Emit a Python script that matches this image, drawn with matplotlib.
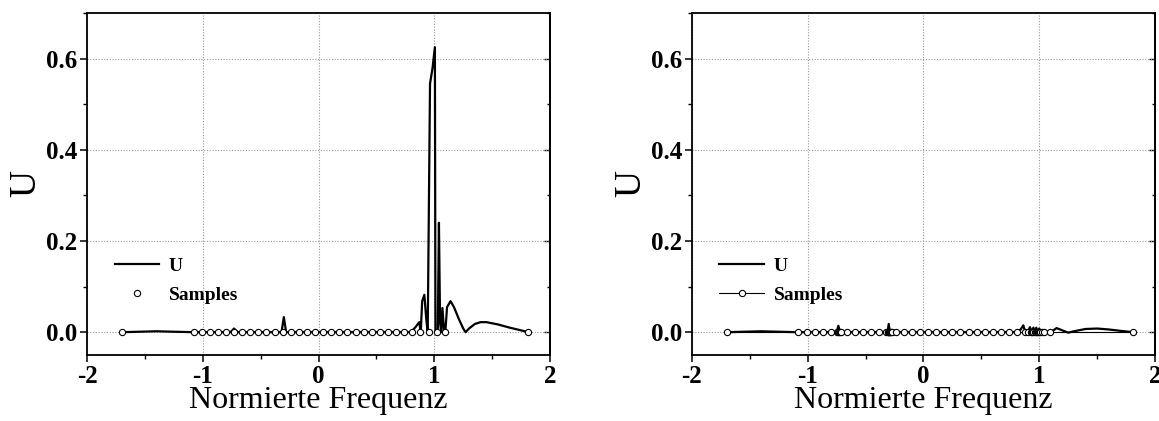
import matplotlib
matplotlib.use("Agg")
import matplotlib.pyplot as plt
from matplotlib.ticker import MultipleLocator, FormatStrFormatter

plt.rcParams['font.family'] = ['Liberation Serif', 'DejaVu Serif']

# ---------------- data ----------------
base_samples_x = [-1.70, -1.08, -1.01, -0.94, -0.87, -0.80, -0.73, -0.66, -0.59,
                  -0.52, -0.45, -0.38, -0.31, -0.24, -0.17, -0.10, -0.03, 0.04,
                  0.11, 0.18, 0.25, 0.32, 0.39, 0.46, 0.53, 0.60, 0.67, 0.74,
                  0.81, 0.88, 0.95, 1.02, 1.09, 1.81]
left_samples_y = [0.0] * len(base_samples_x)

extra_samples_x = [-0.745, -0.735, -0.725, -0.715, -0.32, -0.305, -0.30, -0.295,
                   -0.29, -0.285, -0.28, -0.27, 0.90, 0.93, 0.94, 0.96, 0.97,
                   0.98, 0.99, 1.00, 1.01, 1.04]
right_samples_x = sorted(base_samples_x + extra_samples_x)
right_samples_y = [0.0] * len(right_samples_x)

left_u_x = [-1.70, -1.55, -1.40, -1.25, -1.08, -0.76, -0.73, -0.70, -0.32, -0.30,
            -0.28, 0.80, 0.84, 0.87, 0.883, 0.895, 0.914, 0.93, 0.943, 0.963,
            0.985, 1.005, 1.01, 1.03, 1.04, 1.05, 1.06, 1.07, 1.085, 1.095,
            1.11, 1.14, 1.17, 1.21, 1.25, 1.27, 1.30, 1.35, 1.40, 1.45, 1.55,
            1.65, 1.75, 1.81]
left_u_y = [0.0, 0.001, 0.002, 0.001, 0.0, 0.0, 0.008, 0.0, 0.0, 0.033,
            0.0, 0.0, 0.012, 0.022, 0.0, 0.068, 0.082, 0.03, 0.0, 0.545,
            0.58, 0.625, 0.0, 0.0, 0.24, 0.02, 0.0, 0.053, 0.0, 0.0,
            0.055, 0.068, 0.055, 0.03, 0.008, 0.0, 0.008, 0.018, 0.022, 0.022, 0.017,
            0.010, 0.004, 0.0]

right_u_x = [-1.70, -1.55, -1.40, -1.25, -1.08, -0.75, -0.735, -0.72, -0.31, -0.30,
             -0.29, 0.80, 0.84, 0.863, 0.88, 0.90, 0.92, 0.935, 0.95, 0.96,
             0.975, 0.985, 1.00, 1.01, 1.10, 1.15, 1.20, 1.25, 1.30, 1.40,
             1.50, 1.60, 1.70, 1.81]
right_u_y = [0.0, 0.001, 0.002, 0.001, 0.0, 0.0, 0.014, 0.0, 0.0, 0.018,
             0.0, 0.0, 0.006, 0.015, 0.0, 0.0, 0.011, 0.0, 0.010, 0.0,
             0.010, 0.0, 0.008, 0.0, 0.0, 0.009, 0.004, -0.001, 0.002, 0.007,
             0.008, 0.006, 0.003, 0.0]

x_ticks = [-2, -1, 0, 1, 2]
y_ticks = [0.0, 0.2, 0.4, 0.6]
x_label = "Normierte Frequenz"
y_label = "U"

# ---------------- figure ----------------
fig = plt.figure(figsize=(11.59, 4.21), dpi=100)
ax1 = fig.add_axes([0.0751, 0.1568, 0.3995, 0.8123])
ax2 = fig.add_axes([0.5970, 0.1568, 0.3995, 0.8123])


def style(ax):
    ax.set_xlim(-2, 2)
    ax.set_ylim(-0.05, 0.70)
    ax.set_xticks(x_ticks)
    ax.set_yticks(y_ticks)
    ax.xaxis.set_minor_locator(MultipleLocator(0.5))
    ax.yaxis.set_minor_locator(MultipleLocator(0.1))
    ax.yaxis.set_major_formatter(FormatStrFormatter('%.1f'))
    ax.xaxis.set_major_formatter(FormatStrFormatter('%d'))
    ax.grid(True, which='major', color='#999999', linestyle=(0, (1, 1.5)), linewidth=0.8)
    ax.set_axisbelow(True)
    ax.tick_params(which='major', direction='out', length=5, width=1.1,
                   labelsize=18, pad=2, top=False, right=False)
    ax.tick_params(which='minor', direction='out', length=3, width=1.0,
                   top=False, right=False)
    for lab in ax.get_xticklabels() + ax.get_yticklabels():
        lab.set_fontweight('bold')
    for sp in ax.spines.values():
        sp.set_linewidth(1.3)
    ax.set_xlabel(x_label, fontsize=23, labelpad=-1)
    ax.set_ylabel(y_label, fontsize=27, labelpad=2)
    # inward ticks on the right spine
    sec = ax.secondary_yaxis('right')
    sec.set_yticks(y_ticks)
    sec.yaxis.set_minor_locator(MultipleLocator(0.1))
    sec.tick_params(which='major', direction='in', length=4, width=1.0, labelright=False)
    sec.tick_params(which='minor', direction='in', length=2.5, width=1.0)
    sec.spines['right'].set_linewidth(1.3)


style(ax1)
style(ax2)

# left panel
ax1.plot(left_u_x, left_u_y, color='black', linewidth=1.6, label='U', zorder=3)
ax1.plot(base_samples_x, left_samples_y, linestyle='none', marker='o',
         markersize=4.5, markerfacecolor='white', markeredgecolor='black',
         markeredgewidth=0.8, label='Samples', zorder=4)

# right panel
ax2.plot(right_u_x, right_u_y, color='black', linewidth=1.6, label='U', zorder=3)
ax2.plot(right_samples_x, right_samples_y, color='black', linewidth=0.8, marker='o',
         markersize=4.5, markerfacecolor='white', markeredgecolor='black',
         markeredgewidth=0.8, label='Samples', zorder=4)

for ax in (ax1, ax2):
    ax.legend(loc='center left', bbox_to_anchor=(0.03, 0.218), frameon=False,
              prop={'family': 'Liberation Serif', 'weight': 'bold', 'size': 14},
              handlelength=2.3, handletextpad=0.5, labelspacing=0.6,
              borderpad=0.2)

fig.savefig('out.png', dpi=100, facecolor='white')
